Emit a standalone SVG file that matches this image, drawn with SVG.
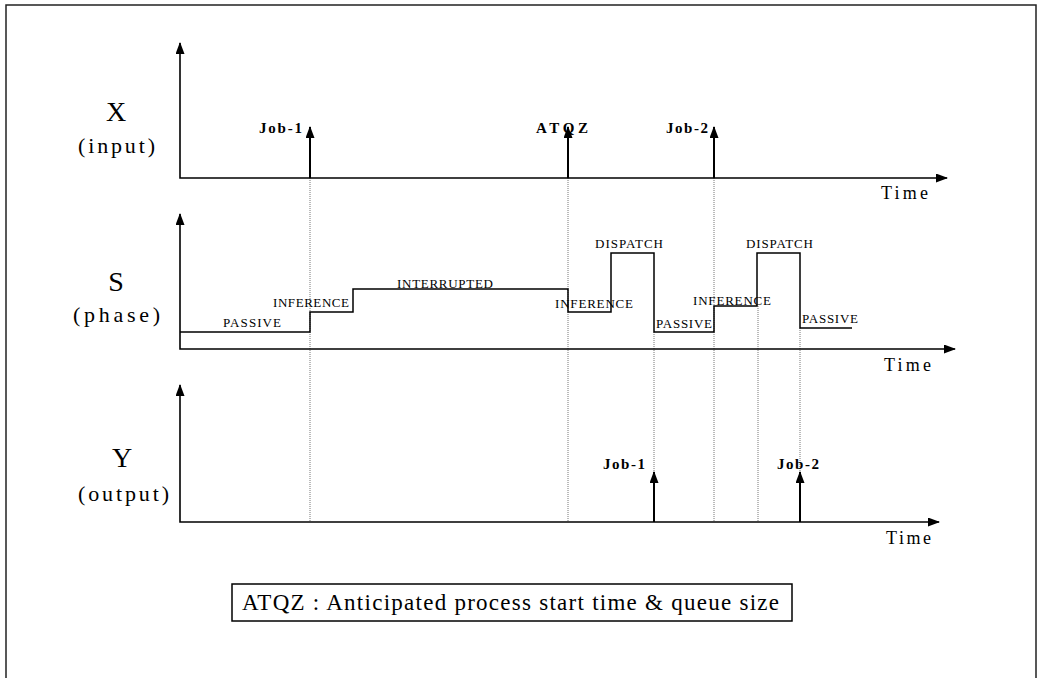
<svg xmlns="http://www.w3.org/2000/svg" width="1043" height="678" viewBox="0 0 1043 678">
<style>
text{font-family:"Liberation Serif","Times New Roman",serif;fill:#000}
.big{font-size:28px}
.sub{font-size:22px}
.time{font-size:18px}
.job{font-size:15px;font-weight:bold}
.st{font-size:13px}
.axis{stroke:#000;stroke-width:1.6;fill:none}
.ev{stroke:#000;stroke-width:2;fill:none}
.step{stroke:#000;stroke-width:1.5;fill:none}
.dot{stroke:#777;stroke-width:1;stroke-dasharray:1 1;fill:none}
</style>
<defs>
<marker id="ah" markerUnits="userSpaceOnUse" markerWidth="12" markerHeight="10" refX="11" refY="4.5" orient="auto-start-reverse">
<path d="M0,0 L12,4.5 L0,9 z" fill="#000"/>
</marker>
</defs>
<rect x="0" y="0" width="1043" height="678" fill="#fff"/>
<path d="M6,680 V5 H1036 V680" fill="none" stroke="#222" stroke-width="1.5"/>

<g id="connectors">
<line class="dot" x1="310" y1="178" x2="310" y2="522"/>
<line class="dot" x1="568" y1="178" x2="568" y2="522"/>
<line class="dot" x1="714" y1="178" x2="714" y2="522"/>
<line class="dot" x1="654" y1="332" x2="654" y2="472"/>
<line class="dot" x1="758" y1="306" x2="758" y2="522"/>
<line class="dot" x1="800" y1="328" x2="800" y2="472"/>
</g>

<g id="panel-x">
<text class="big" x="116" y="121" text-anchor="middle">X</text>
<text class="sub" x="78" y="153" textLength="77" lengthAdjust="spacing">(input)</text>
<polyline class="axis" points="180,43 180,178 947,178" marker-start="url(#ah)" marker-end="url(#ah)"/>
<text class="time" x="881" y="199" textLength="47" lengthAdjust="spacing">Time</text>
<line class="ev" x1="310" y1="178" x2="310" y2="127" marker-end="url(#ah)"/>
<line class="ev" x1="568" y1="178" x2="568" y2="127" marker-end="url(#ah)"/>
<line class="ev" x1="714" y1="178" x2="714" y2="127" marker-end="url(#ah)"/>
<text class="job" x="259" y="133" textLength="43" lengthAdjust="spacing">Job-1</text>
<text class="job" x="536" y="133" textLength="52" lengthAdjust="spacing">ATQZ</text>
<text class="job" x="666" y="133" textLength="42" lengthAdjust="spacing">Job-2</text>
</g>

<g id="panel-s">
<text class="big" x="116" y="291" text-anchor="middle">S</text>
<text class="sub" x="73" y="322" textLength="87" lengthAdjust="spacing">(phase)</text>
<polyline class="axis" points="180,214 180,349 955,349" marker-start="url(#ah)" marker-end="url(#ah)"/>
<text class="time" x="884" y="371" textLength="47" lengthAdjust="spacing">Time</text>
<polyline class="step" points="180,332 310,332 310,312 353,312 353,289 568,289 568,312 611,312 611,253 654,253 654,332 714,332 714,306 757,306 757,253 800,253 800,328 852,328"/>
<text class="st" x="223" y="327" textLength="58" lengthAdjust="spacing">PASSIVE</text>
<text class="st" x="273" y="307" textLength="76" lengthAdjust="spacing">INFERENCE</text>
<text class="st" x="397" y="288" textLength="96" lengthAdjust="spacing">INTERRUPTED</text>
<text class="st" x="555" y="308" textLength="78" lengthAdjust="spacing">INFERENCE</text>
<text class="st" x="595" y="248" textLength="68" lengthAdjust="spacing">DISPATCH</text>
<text class="st" x="656" y="328" textLength="56" lengthAdjust="spacing">PASSIVE</text>
<text class="st" x="693" y="305" textLength="78" lengthAdjust="spacing">INFERENCE</text>
<text class="st" x="746" y="248" textLength="67" lengthAdjust="spacing">DISPATCH</text>
<text class="st" x="802" y="323" textLength="56" lengthAdjust="spacing">PASSIVE</text>
</g>

<g id="panel-y">
<text class="big" x="122" y="467" text-anchor="middle">Y</text>
<text class="sub" x="78" y="501" textLength="91" lengthAdjust="spacing">(output)</text>
<polyline class="axis" points="180,385 180,522 939,522" marker-start="url(#ah)" marker-end="url(#ah)"/>
<text class="time" x="886" y="544" textLength="45" lengthAdjust="spacing">Time</text>
<line class="ev" x1="654" y1="522" x2="654" y2="472" marker-end="url(#ah)"/>
<line class="ev" x1="800" y1="522" x2="800" y2="472" marker-end="url(#ah)"/>
<text class="job" x="603" y="469" textLength="42" lengthAdjust="spacing">Job-1</text>
<text class="job" x="777" y="469" textLength="42" lengthAdjust="spacing">Job-2</text>
</g>

<g id="legend">
<rect x="232" y="584" width="560" height="37" fill="#fff" stroke="#000" stroke-width="1.5"/>
<text x="242" y="610" font-size="23" textLength="537" lengthAdjust="spacing">ATQZ : Anticipated process start time &amp; queue size</text>
</g>
</svg>
